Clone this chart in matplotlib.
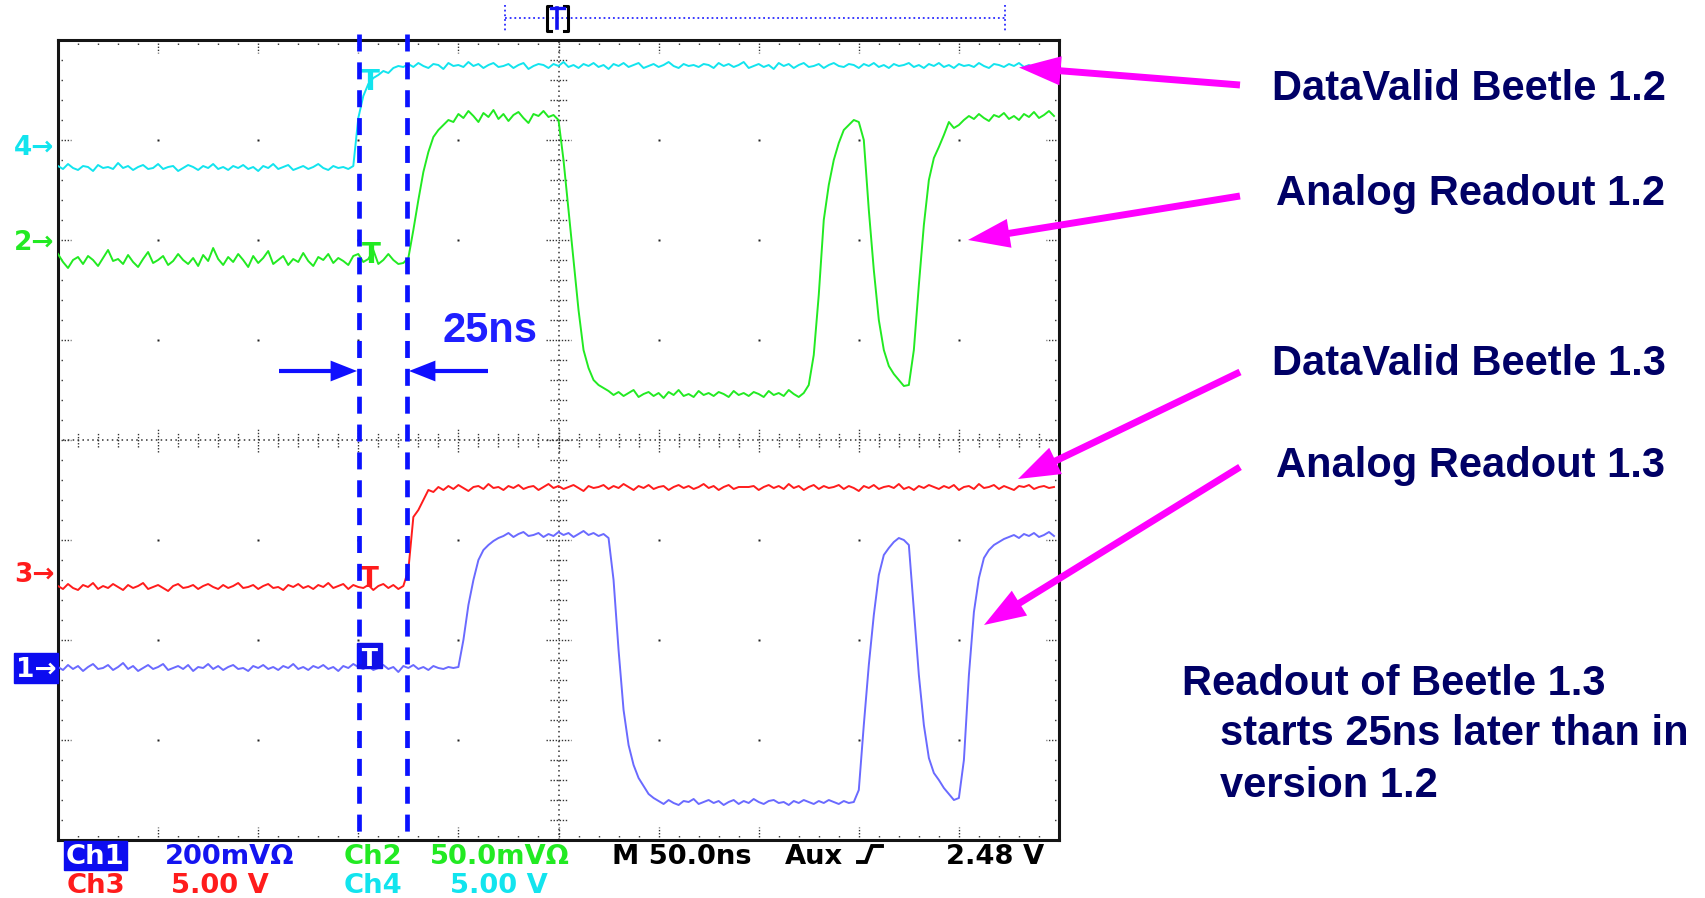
import numpy as np
import matplotlib
matplotlib.use("Agg")
import matplotlib.pyplot as plt
from matplotlib.patches import FancyArrowPatch, Rectangle, ArrowStyle
from matplotlib.collections import LineCollection
from matplotlib.lines import Line2D

# ---------------- data (screen divisions, sampled every 2.5 ns = 0.05 div) -------------
SAMPLE_NS = 2.5
CH4_DATAVALID_12 = [
    2.74, 2.71, 2.76, 2.72, 2.70, 2.74, 2.73, 2.69, 2.75, 2.72,
    2.73, 2.71, 2.77, 2.72, 2.74, 2.70, 2.73, 2.75, 2.71, 2.72,
    2.76, 2.71, 2.73, 2.74, 2.69, 2.72, 2.75, 2.73, 2.70, 2.74,
    2.72, 2.76, 2.71, 2.73, 2.70, 2.74, 2.72, 2.75, 2.71, 2.73,
    2.69, 2.74, 2.72, 2.76, 2.71, 2.73, 2.75, 2.70, 2.72, 2.74,
    2.71, 2.73, 2.76, 2.72, 2.70, 2.74, 2.72, 2.73, 2.71, 2.74,
    3.22, 3.44, 3.56, 3.62, 3.65, 3.69, 3.67, 3.72, 3.74, 3.73,
    3.76, 3.73, 3.77, 3.74, 3.72, 3.76, 3.75, 3.71, 3.77, 3.74,
    3.75, 3.73, 3.78, 3.74, 3.76, 3.72, 3.75, 3.77, 3.73, 3.74,
    3.76, 3.72, 3.75, 3.77, 3.71, 3.74, 3.76, 3.75, 3.72, 3.76,
    3.74, 3.78, 3.73, 3.75, 3.72, 3.76, 3.74, 3.77, 3.73, 3.75,
    3.71, 3.76, 3.74, 3.77, 3.73, 3.75, 3.77, 3.72, 3.74, 3.76,
    3.73, 3.75, 3.78, 3.74, 3.72, 3.76, 3.74, 3.75, 3.73, 3.76,
    3.75, 3.72, 3.77, 3.74, 3.76, 3.73, 3.75, 3.78, 3.72, 3.74,
    3.76, 3.73, 3.75, 3.71, 3.77, 3.74, 3.76, 3.72, 3.75, 3.77,
    3.73, 3.74, 3.76, 3.72, 3.75, 3.77, 3.74, 3.73, 3.76, 3.75,
    3.72, 3.76, 3.74, 3.77, 3.73, 3.75, 3.72, 3.76, 3.74, 3.75,
    3.77, 3.73, 3.75, 3.72, 3.76, 3.74, 3.77, 3.73, 3.75, 3.72,
    3.76, 3.74, 3.75, 3.73, 3.77, 3.74, 3.72, 3.76, 3.75, 3.73,
    3.76, 3.74, 3.77, 3.73, 3.75, 3.72, 3.76, 3.74, 3.75, 3.74,
]
CH2_ANALOG_12 = [
    1.86, 1.78, 1.72, 1.80, 1.83, 1.76, 1.84, 1.80, 1.74, 1.82,
    1.90, 1.79, 1.81, 1.76, 1.85, 1.78, 1.73, 1.81, 1.88, 1.77,
    1.80, 1.84, 1.75, 1.79, 1.86, 1.80, 1.76, 1.82, 1.74, 1.85,
    1.79, 1.92, 1.81, 1.75, 1.83, 1.78, 1.86, 1.80, 1.73, 1.84,
    1.77, 1.82, 1.89, 1.76, 1.80, 1.84, 1.75, 1.81, 1.78, 1.87,
    1.79, 1.74, 1.83, 1.80, 1.86, 1.77, 1.82, 1.79, 1.75, 1.84,
    1.86, 1.78, 1.81, 1.90, 1.76, 1.80, 1.86, 1.80, 1.76, 1.77,
    1.82, 2.10, 2.40, 2.68, 2.88, 3.03, 3.10, 3.15, 3.20, 3.18,
    3.26, 3.22, 3.29, 3.24, 3.18, 3.27, 3.23, 3.30, 3.21, 3.26,
    3.19, 3.25, 3.28, 3.22, 3.17, 3.26, 3.24, 3.29, 3.23, 3.25,
    3.20, 2.80, 2.30, 1.80, 1.30, 0.90, 0.72, 0.60, 0.55, 0.52,
    0.49, 0.45, 0.48, 0.44, 0.47, 0.50, 0.43, 0.46, 0.48, 0.44,
    0.47, 0.42, 0.48, 0.45, 0.50, 0.44, 0.46, 0.43, 0.49, 0.45,
    0.47, 0.44, 0.48, 0.46, 0.43, 0.49, 0.45, 0.47, 0.44, 0.48,
    0.46, 0.43, 0.49, 0.45, 0.47, 0.44, 0.50, 0.46, 0.43, 0.47,
    0.55, 0.85, 1.45, 2.20, 2.55, 2.80, 2.97, 3.10, 3.15, 3.20,
    3.18, 3.00, 2.30, 1.70, 1.20, 0.90, 0.74, 0.66, 0.60, 0.54,
    0.55, 0.90, 1.55, 2.15, 2.60, 2.82, 2.93, 3.05, 3.18, 3.12,
    3.15, 3.20, 3.24, 3.21, 3.26, 3.22, 3.19, 3.25, 3.23, 3.27,
    3.21, 3.24, 3.20, 3.26, 3.23, 3.28, 3.22, 3.25, 3.29, 3.24,
]
CH3_DATAVALID_13 = [
    -1.46, -1.49, -1.44, -1.48, -1.50, -1.45, -1.47, -1.43, -1.49, -1.46,
    -1.48, -1.44, -1.47, -1.50, -1.45, -1.48, -1.46, -1.43, -1.49, -1.47,
    -1.45, -1.48, -1.51, -1.46, -1.44, -1.48, -1.47, -1.45, -1.49, -1.46,
    -1.44, -1.47, -1.49, -1.45, -1.48, -1.46, -1.43, -1.48, -1.47, -1.45,
    -1.49, -1.46, -1.44, -1.48, -1.47, -1.50, -1.45, -1.47, -1.44, -1.48,
    -1.46, -1.49, -1.45, -1.47, -1.43, -1.48, -1.46, -1.44, -1.49, -1.45,
    -1.47, -1.48, -1.45, -1.50, -1.46, -1.44, -1.48, -1.45, -1.49, -1.46,
    -1.30, -0.77, -0.70, -0.60, -0.50, -0.52,
    -0.47, -0.50, -0.46, -0.49, -0.45, -0.48, -0.51, -0.47, -0.46, -0.49,
    -0.44, -0.48, -0.47, -0.50, -0.46, -0.48, -0.45, -0.49, -0.47, -0.46,
    -0.50, -0.47, -0.44, -0.48, -0.46, -0.49, -0.47, -0.45, -0.48, -0.51,
    -0.46, -0.48, -0.47, -0.45, -0.49, -0.46, -0.48, -0.44, -0.47, -0.50,
    -0.46, -0.48, -0.45, -0.49, -0.47, -0.46, -0.50, -0.47, -0.45, -0.48,
    -0.46, -0.49, -0.47, -0.44, -0.48, -0.46, -0.50, -0.47, -0.45, -0.49,
    -0.47, -0.47, -0.47, -0.46, -0.50, -0.47, -0.45, -0.48, -0.46, -0.49,
    -0.44, -0.48, -0.46, -0.50, -0.47, -0.45, -0.49, -0.46, -0.48, -0.47,
    -0.45, -0.49, -0.46, -0.48, -0.51, -0.46, -0.48, -0.45, -0.49, -0.47,
    -0.46, -0.48, -0.44, -0.49, -0.47, -0.50, -0.46, -0.48, -0.45, -0.47,
    -0.49, -0.46, -0.48, -0.45, -0.50, -0.47, -0.46, -0.49, -0.44, -0.48,
    -0.47, -0.45, -0.49, -0.46, -0.48, -0.50, -0.46, -0.47, -0.45, -0.49,
    -0.47, -0.46, -0.48, -0.47,
]
CH1_ANALOG_13 = [
    -2.27, -2.30, -2.25, -2.29, -2.26, -2.31, -2.27, -2.24, -2.29, -2.28,
    -2.25, -2.30, -2.27, -2.23, -2.29, -2.26, -2.31, -2.28, -2.25, -2.29,
    -2.27, -2.24, -2.30, -2.28, -2.26, -2.29, -2.25, -2.31, -2.27, -2.28,
    -2.24, -2.29, -2.26, -2.30, -2.27, -2.25, -2.29, -2.28, -2.31, -2.26,
    -2.28, -2.25, -2.29, -2.27, -2.30, -2.26, -2.28, -2.24, -2.29, -2.27,
    -2.30, -2.26, -2.28, -2.25, -2.29, -2.27, -2.31, -2.26, -2.28, -2.24,
    -2.27, -2.29, -2.26, -2.30, -2.28, -2.25, -2.29, -2.27, -2.32, -2.26,
    -2.28, -2.25, -2.29, -2.27, -2.30, -2.26, -2.28, -2.29, -2.27, -2.28,
    -2.27, -2.00, -1.65, -1.40, -1.20, -1.10, -1.05, -1.01, -0.98,
    -0.96, -0.93, -0.97, -0.94, -0.92, -0.96, -0.95, -0.93, -0.97, -0.94,
    -0.96, -0.92, -0.95, -0.93, -0.97, -0.94, -0.91, -0.95, -0.93, -0.96, -0.94,
    -0.98, -1.40, -2.10, -2.70, -3.05, -3.25, -3.38, -3.46, -3.54, -3.58,
    -3.61, -3.64, -3.60, -3.63, -3.65, -3.61, -3.62, -3.59, -3.64, -3.62,
    -3.60, -3.63, -3.61, -3.65, -3.62, -3.60, -3.64, -3.61, -3.63, -3.59,
    -3.62, -3.64, -3.61, -3.60, -3.63, -3.62, -3.65, -3.61, -3.63, -3.60,
    -3.62, -3.64, -3.61, -3.63, -3.60, -3.62, -3.64, -3.61, -3.63, -3.62,
    -3.50, -2.85, -2.25, -1.75, -1.35, -1.15, -1.08, -1.02, -0.98, -1.00,
    -1.05, -1.70, -2.35, -2.85, -3.18, -3.33, -3.40, -3.48, -3.54, -3.60,
    -3.58, -3.20, -2.35, -1.72, -1.38, -1.18, -1.10, -1.05, -1.02, -0.99,
    -0.97, -0.95, -0.98, -0.94, -0.96, -0.93, -0.97, -0.95, -0.92, -0.96,
]
CURSOR_NS = [150.5, 174.5]          # the two dashed cursors (25 ns apart)
TRIG_NS = 150.0

LABELS = ["DataValid Beetle 1.2", "Analog Readout 1.2",
          "DataValid Beetle 1.3", "Analog Readout 1.3"]
NOTE = ["Readout of Beetle 1.3", "starts 25ns later than in", "version 1.2"]

# ---------------- figure ----------------
W, H = 1706, 898
fig = plt.figure(figsize=(W / 100, H / 100), dpi=100)
fig.patch.set_facecolor("white")


def fx(x):
    return x / W


def fy(y):
    return 1 - y / H


CYAN, GREEN, RED, LAV = "#12e4ee", "#22ea22", "#ff1c1c", "#6a6aff"
NAVY, MAG = "#000066", "#ff00ff"

X0, X1, Y0, Y1 = 58, 1059, 40, 840
ax = fig.add_axes([fx(X0), fy(Y1), (X1 - X0) / W, (Y1 - Y0) / H])
ax.set_xlim(0, 500)
ax.set_ylim(-4, 4)
ax.set_xticks([])
ax.set_yticks([])
for s in ax.spines.values():
    s.set_linewidth(2.2)
    s.set_color("#151515")

# graticule
gx = [50 * i for i in range(1, 10) if i != 5]
gy = [j for j in range(-3, 4) if j != 0]
GX, GY = np.meshgrid(gx, gy)
ax.plot(GX.ravel(), GY.ravel(), ls="none", marker="s", ms=1.7, mec="none",
        color="#222222", zorder=1)
ax.plot([0, 500], [0, 0], color="#333333", lw=1.1, ls=(0, (1, 2.2)), zorder=1)
ax.plot([250, 250], [-4, 4], color="#333333", lw=1.1, ls=(0, (1, 2.2)), zorder=1)
segs = []
for k in range(1, 50):
    x = k * 10
    major = k % 5 == 0
    L = 0.12 if major else 0.07
    segs.append([(x, -L), (x, L)])
    tl = 0.13 if major else 0.055
    segs.append([(x, 4), (x, 4 - tl)])
    segs.append([(x, -4), (x, -4 + tl)])
for k in range(-19, 20):
    y = k * 0.2
    major = k % 5 == 0
    L = 6 if major else 4
    segs.append([(250 - L, y), (250 + L, y)])
    tl = 6.5 if major else 3.2
    segs.append([(0, y), (tl, y)])
    segs.append([(500, y), (500 - tl, y)])
ax.add_collection(LineCollection(segs, colors="#333333", linewidths=1.0,
                                 linestyles=(0, (1, 1.2)), zorder=1))

# traces
t = np.arange(len(CH4_DATAVALID_12)) * SAMPLE_NS
ax.plot(t, CH4_DATAVALID_12, color=CYAN, lw=1.4, zorder=3)
ax.plot(t, CH2_ANALOG_12, color=GREEN, lw=1.4, zorder=3)
ax.plot(t, CH3_DATAVALID_13, color=RED, lw=1.4, zorder=3)
ax.plot(t, CH1_ANALOG_13, color=LAV, lw=1.4, zorder=3)

# trigger "T" markers
tk = dict(fontsize=20, ha="center", va="baseline", family="DejaVu Sans",
          weight="bold", zorder=4)
ax.text(TRIG_NS + 6.0, 3.50, "T", color=CYAN, **tk)
ax.text(TRIG_NS + 6.5, 1.77, "T", color=GREEN, **tk)
ax.text(TRIG_NS + 5.5, -1.47, "T", color=RED, **tk)
ax.add_patch(Rectangle((TRIG_NS - 0.6, -2.275), 12.5, 0.245, color="#1010e8",
                       zorder=4))
ax.text(TRIG_NS + 5.6, -2.255, "T", color="white", fontsize=18, ha="center",
        va="baseline", family="DejaVu Sans", weight="bold", zorder=5)

# dashed cursors
for c in CURSOR_NS:
    ax.plot([c, c], [4.06, -3.94], color="#0a12ff", lw=3.4,
            ls=(0, (3.6, 2.3)), clip_on=False, zorder=6, dash_capstyle="butt")

# channel ground markers (left)
mk = dict(fontsize=19, family="DejaVu Sans", weight="bold", ha="left",
          va="baseline")
fig.text(fx(14), fy(155), "4\u2192", color=CYAN, **mk)
fig.text(fx(14), fy(250), "2\u2192", color=GREEN, **mk)
fig.text(fx(14), fy(582), "3\u2192", color=RED, **mk)
fig.add_artist(Rectangle((fx(14), fy(683)), 44 / W, 30 / H, color="#0c0cf0",
                         transform=fig.transFigure))
fig.text(fx(16), fy(677), "1\u2192", color="white", **mk)

# bottom status text
st = dict(fontsize=19.7, family="DejaVu Sans", weight="bold", ha="left",
          va="baseline")
fig.add_artist(Rectangle((fx(64), fy(870)), 63 / W, 29 / H, color="#0c0cf0",
                         transform=fig.transFigure))
fig.text(fx(66), fy(864), "Ch1", color="white", **st)
fig.text(fx(165), fy(864), "200mV\u03a9", color="#1414f0", **st)
fig.text(fx(344), fy(864), "Ch2", color=GREEN, **st)
fig.text(fx(430), fy(864), "50.0mV\u03a9", color=GREEN, **st)
fig.text(fx(612), fy(864), "M 50.0ns", color="black", **st)
fig.text(fx(785), fy(864), "Aux", color="black", **st)
fig.text(fx(946), fy(864), "2.48 V", color="black", **st)
fig.text(fx(67), fy(893), "Ch3", color=RED, **st)
fig.text(fx(171), fy(893), "5.00 V", color=RED, **st)
fig.text(fx(344), fy(893), "Ch4", color=CYAN, **st)
fig.text(fx(450), fy(893), "5.00 V", color=CYAN, **st)
fig.add_artist(Line2D([fx(858), fx(866), fx(872), fx(882)],
                      [fy(862), fy(862), fy(846), fy(846)], color="black", lw=2.8,
                      transform=fig.transFigure, solid_joinstyle="miter"))

# horizontal position bracket at top
fig.add_artist(Line2D([fx(505), fx(1005)], [fy(18), fy(18)], color="#2a2aff",
                      lw=1.3, ls=(0, (1, 1.6)), transform=fig.transFigure))
for xe in (505, 1005):
    fig.add_artist(Line2D([fx(xe), fx(xe)], [fy(5), fy(32)], color="#2a2aff",
                          lw=1.3, ls=(0, (1, 1.6)), transform=fig.transFigure))
for xs, d in ((547, 1), (568, -1)):
    fig.add_artist(Line2D([fx(xs + 4 * d), fx(xs), fx(xs), fx(xs + 4 * d)],
                          [fy(6), fy(6), fy(31), fy(31)], color="black", lw=2.2,
                          transform=fig.transFigure))
fig.add_artist(Line2D([fx(551), fx(564)], [fy(8), fy(8)], color="#1010f0", lw=2.4,
                      transform=fig.transFigure))
fig.add_artist(Line2D([fx(557.5), fx(557.5)], [fy(8), fy(28)], color="#1010f0",
                      lw=2.6, transform=fig.transFigure))

# 25 ns annotation
fig.text(fx(443), fy(342), "25ns", color="#1f1fff", fontsize=30,
         family="Liberation Sans", weight="bold", ha="left", va="baseline")
for a, b in (((279, 371), (357, 371)), ((488, 371), (409, 371))):
    fig.add_artist(FancyArrowPatch(
        (fx(a[0]), fy(a[1])), (fx(b[0]), fy(b[1])), transform=fig.transFigure,
        arrowstyle=ArrowStyle("simple", head_length=19, head_width=15, tail_width=3),
        mutation_scale=1, color="#0f0fff", lw=0, shrinkA=0, shrinkB=0, zorder=7))

# magenta arrows + labels
arrows = [((1240, 85), (1019, 67.5)), ((1240, 196), (968, 240)),
          ((1240, 372), (1018, 479)), ((1240, 467), (984, 625))]
for a, b in arrows:
    fig.add_artist(FancyArrowPatch(
        (fx(a[0]), fy(a[1])), (fx(b[0]), fy(b[1])), transform=fig.transFigure,
        arrowstyle=ArrowStyle("simple", head_length=30, head_width=21, tail_width=5),
        mutation_scale=1, color=MAG, lw=0, shrinkA=0, shrinkB=0, zorder=7))

lab = dict(fontsize=30, family="Liberation Sans", weight="bold", color=NAVY,
           ha="left", va="baseline")
fig.text(fx(1272), fy(100), LABELS[0], **lab)
fig.text(fx(1276), fy(205), LABELS[1], **lab)
fig.text(fx(1272), fy(375), LABELS[2], **lab)
fig.text(fx(1276), fy(477), LABELS[3], **lab)
fig.text(fx(1182), fy(695), NOTE[0], **lab)
fig.text(fx(1220), fy(745), NOTE[1], **lab)
fig.text(fx(1220), fy(797), NOTE[2], **lab)

fig.savefig("out.png", dpi=100, facecolor="white")
